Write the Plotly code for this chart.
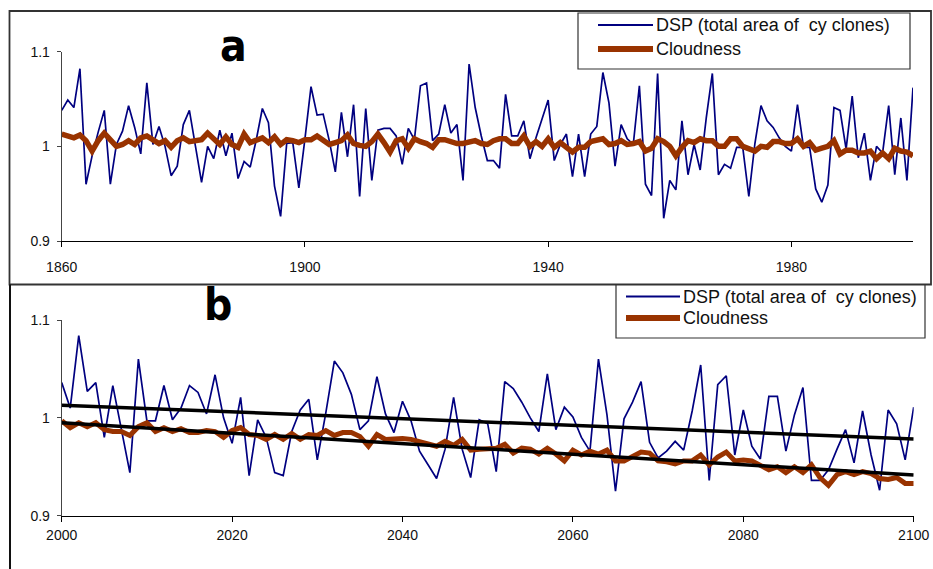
import plotly.graph_objects as go

W, H = 933, 569

# ---------------- Panel a data (1860-2000) ----------------
years_a = list(range(1860, 2001))
dsp_a = [1.038, 1.049, 1.041, 1.082, 0.960, 0.990, 1.015, 1.038, 0.960, 1.002,
         1.016, 1.043, 1.020, 0.992, 1.067, 1.002, 1.021, 1.000, 0.969, 0.979,
         1.023, 1.038, 1.000, 0.962, 1.000, 0.987, 1.017, 0.990, 1.014, 0.966,
         0.984, 0.978, 1.007, 1.040, 1.025, 0.958, 0.926, 1.003, 1.004, 0.956,
         1.008, 1.063, 1.033, 1.034, 1.006, 0.973, 1.036, 0.989, 1.044, 0.947,
         1.040, 0.964, 1.017, 1.019, 1.019, 1.011, 0.981, 1.019, 1.007, 1.064,
         1.067, 1.006, 1.013, 1.044, 1.014, 1.023, 0.964, 1.087, 1.041, 1.011,
         0.985, 0.985, 0.977, 1.055, 1.011, 1.011, 1.027, 0.987, 1.009, 1.029,
         1.049, 0.985, 1.002, 1.013, 0.968, 1.013, 0.968, 1.013, 1.021, 1.078,
         1.046, 0.979, 1.023, 1.008, 1.002, 1.064, 0.960, 0.948, 1.077, 0.924,
         0.964, 0.954, 1.027, 0.970, 1.002, 0.975, 1.030, 1.077, 0.970, 0.981,
         0.977, 0.999, 0.999, 0.947, 1.003, 1.043, 1.027, 1.020, 1.009, 1.000,
         0.995, 1.044, 0.999, 0.999, 0.955, 0.941, 0.959, 1.041, 1.038, 0.997,
         1.053, 0.988, 1.014, 0.964, 1.000, 0.993, 1.043, 0.970, 1.030, 0.964,
         1.062]
cloud_a = [1.013, 1.011, 1.009, 1.012, 1.006, 0.995, 1.006, 1.014, 1.006, 1.000,
           1.002, 1.006, 1.002, 1.009, 1.011, 1.007, 1.003, 1.006, 0.999, 1.006,
           1.009, 1.005, 1.006, 1.007, 1.014, 1.007, 1.002, 1.010, 1.002, 0.999,
           1.013, 1.004, 1.006, 1.009, 1.004, 1.010, 1.002, 1.007, 1.006, 1.004,
           1.007, 1.007, 1.011, 1.007, 1.002, 1.004, 1.006, 1.012, 1.003, 1.001,
           1.000, 1.005, 1.013, 1.004, 0.994, 1.006, 1.008, 0.998, 1.008, 1.005,
           1.003, 0.999, 1.007, 1.007, 1.005, 1.003, 1.003, 1.004, 1.006, 1.003,
           1.002, 1.006, 1.008, 1.008, 1.003, 1.003, 1.011, 1.000, 1.005, 1.000,
           1.008, 0.999, 1.004, 0.999, 0.994, 0.999, 0.999, 1.005, 1.006, 1.008,
           1.002, 1.003, 1.006, 1.002, 1.003, 1.005, 0.995, 0.998, 1.008, 1.005,
           1.000, 0.990, 0.999, 1.006, 1.004, 1.008, 1.006, 1.006, 1.000, 1.000,
           1.008, 1.008, 1.000, 0.998, 0.995, 1.000, 0.999, 1.005, 1.005, 1.003,
           1.003, 1.008, 1.000, 1.004, 0.996, 0.998, 1.000, 1.006, 0.992, 0.996,
           0.996, 0.993, 0.993, 0.995, 0.987, 0.993, 0.987, 0.998, 0.995, 0.994,
           0.990]

# ---------------- Panel b data (2000-2100) ----------------
years_b = list(range(2000, 2101))
dsp_b = [1.036, 1.010, 1.084, 1.027, 1.036, 0.980, 1.033, 0.988, 0.944, 1.060,
         0.997, 0.997, 1.033, 0.998, 1.010, 1.033, 1.026, 1.004, 1.044, 1.000,
         0.974, 1.021, 0.941, 0.998, 0.980, 0.944, 0.941, 0.986, 1.008, 1.019,
         0.957, 1.005, 1.058, 1.046, 1.024, 0.988, 0.997, 1.042, 1.004, 0.985,
         1.017, 0.997, 0.966, 0.952, 0.938, 0.968, 1.021, 0.968, 0.939, 0.998,
         0.994, 0.945, 1.037, 1.030, 1.016, 1.000, 0.986, 1.045, 0.988, 1.011,
         1.001, 0.980, 0.966, 1.060, 1.003, 0.925, 0.999, 1.016, 1.037, 0.975,
         0.959, 0.966, 0.976, 0.967, 1.007, 1.054, 0.936, 1.034, 1.043, 0.962,
         1.008, 0.971, 0.958, 1.022, 1.022, 0.966, 1.003, 1.031, 0.936, 0.936,
         0.947, 0.968, 0.988, 0.954, 1.007, 0.962, 0.926, 1.008, 0.994, 0.957,
         1.011]
cloud_b = [0.997, 0.990, 0.995, 0.991, 0.995, 0.988, 0.986, 0.986, 0.982, 0.991,
           0.995, 0.986, 0.990, 0.986, 0.989, 0.985, 0.985, 0.987, 0.986, 0.980,
           0.987, 0.990, 0.983, 0.982, 0.978, 0.983, 0.978, 0.984, 0.978, 0.983,
           0.982, 0.987, 0.982, 0.985, 0.985, 0.981, 0.971, 0.983, 0.978, 0.979,
           0.979, 0.978, 0.976, 0.974, 0.971, 0.976, 0.972, 0.978, 0.967, 0.968,
           0.968, 0.969, 0.973, 0.964, 0.969, 0.968, 0.963, 0.969, 0.963, 0.956,
           0.967, 0.962, 0.966, 0.963, 0.967, 0.956, 0.956, 0.961, 0.965, 0.964,
           0.956, 0.955, 0.953, 0.956, 0.956, 0.962, 0.952, 0.960, 0.965, 0.956,
           0.957, 0.956, 0.952, 0.947, 0.950, 0.944, 0.950, 0.944, 0.952, 0.939,
           0.931, 0.942, 0.945, 0.942, 0.945, 0.943, 0.938, 0.937, 0.939, 0.933,
           0.933]
trend_years = [2000, 2100]
dsp_trend = [1.013, 0.9785]
cloud_trend = [0.995, 0.9415]

ticks_a = [1860, 1900, 1940, 1980]
ticks_b = [2000, 2020, 2040, 2060, 2080, 2100]
ticks_y = [0.9, 1.0, 1.1]
ticks_y_text = ["0.9", "1", "1.1"]

legend_labels = ["DSP (total area of\u00a0 cy clones)", "Cloudness"]
panel_labels = ["a", "b"]

NAVY = "#000080"
BROWN = "#993300"


def px(x):
    return x / W


def py(y):
    return 1 - y / H


fig = go.Figure()

# panel a traces
fig.add_trace(go.Scatter(x=years_a, y=dsp_a, mode="lines", line=dict(color=NAVY, width=1.7),
                         xaxis="x", yaxis="y", showlegend=False))
fig.add_trace(go.Scatter(x=years_a, y=cloud_a, mode="lines", line=dict(color=BROWN, width=5.5),
                         xaxis="x", yaxis="y", showlegend=False))
# panel b traces
fig.add_trace(go.Scatter(x=years_b, y=dsp_b, mode="lines", line=dict(color=NAVY, width=1.7),
                         xaxis="x2", yaxis="y2", showlegend=False))
fig.add_trace(go.Scatter(x=years_b, y=cloud_b, mode="lines", line=dict(color=BROWN, width=5),
                         xaxis="x2", yaxis="y2", showlegend=False))
fig.add_trace(go.Scatter(x=trend_years, y=dsp_trend, mode="lines", line=dict(color="#000000", width=3.5),
                         xaxis="x2", yaxis="y2", showlegend=False))
fig.add_trace(go.Scatter(x=trend_years, y=cloud_trend, mode="lines", line=dict(color="#000000", width=3.5),
                         xaxis="x2", yaxis="y2", showlegend=False))

tickfont = dict(family="Liberation Sans, Arial, sans-serif", size=14, color="#111")

common_x = dict(showgrid=False, zeroline=False, showline=True, linecolor="#000", linewidth=1.2,
                ticks="outside", ticklen=5, tickcolor="#000", tickwidth=1, tickfont=tickfont,
                automargin=False)
common_y = dict(showgrid=False, zeroline=False, showline=True, linecolor="#444", linewidth=1,
                ticks="outside", ticklen=4, tickcolor="#444", tickwidth=1, tickfont=tickfont,
                tickvals=ticks_y, ticktext=ticks_y_text, ticklabelstandoff=4, automargin=False)

fig.update_layout(
    width=W, height=H, autosize=False,
    margin=dict(l=0, r=0, t=0, b=0, pad=0, autoexpand=False),
    paper_bgcolor="white", plot_bgcolor="white",
    showlegend=False,
    xaxis=dict(domain=[px(61.7), px(913)], range=[1860, 2000], tickvals=ticks_a,
               anchor="y", ticklabelstandoff=8, **common_x),
    yaxis=dict(domain=[py(241), py(51.7)], range=[0.9, 1.1], anchor="x", **common_y),
    xaxis2=dict(domain=[px(61.7), px(913.7)], range=[2000, 2100], tickvals=ticks_b,
                anchor="y2", ticklabelstandoff=1, **common_x),
    yaxis2=dict(domain=[py(515.7), py(320)], range=[0.9, 1.1], anchor="x2", **common_y),
)

shapes = []
# panel borders
shapes.append(dict(type="rect", xref="paper", yref="paper", x0=px(9.5), x1=px(931), y0=py(284.5), y1=py(11),
                   line=dict(color="#333", width=1.8), layer="below"))
shapes.append(dict(type="line", xref="paper", yref="paper", x0=px(10), x1=px(10), y0=py(284.5), y1=py(569),
                   line=dict(color="#111", width=2)))

# custom legends
legend_boxes = [(578, 13, 910, 69, 598, 653, 25, 49), (616, 285, 925, 338, 626, 680, 296.5, 318)]
annotations = []
for (bx0, by0, bx1, by1, lx0, lx1, r1, r2) in legend_boxes:
    shapes.append(dict(type="rect", xref="paper", yref="paper", x0=px(bx0), x1=px(bx1), y0=py(by1), y1=py(by0),
                       line=dict(color="#333", width=1.2), fillcolor="white"))
    shapes.append(dict(type="line", xref="paper", yref="paper", x0=px(lx0), x1=px(lx1), y0=py(r1), y1=py(r1),
                       line=dict(color=NAVY, width=2)))
    shapes.append(dict(type="line", xref="paper", yref="paper", x0=px(lx0), x1=px(lx1), y0=py(r2), y1=py(r2),
                       line=dict(color=BROWN, width=6)))
    for txt, ry in zip(legend_labels, (r1, r2)):
        annotations.append(dict(xref="paper", yref="paper", x=px(lx1 + 1), y=py(ry), xanchor="left",
                                yanchor="middle", text=txt, showarrow=False,
                                font=dict(family="Liberation Sans, Arial, sans-serif", size=18, color="#111")))

# panel letters
for lab, (lx, ly) in zip(panel_labels, [(233, 46), (218, 304)]):
    annotations.append(dict(xref="paper", yref="paper", x=px(lx), y=py(ly), xanchor="center", yanchor="middle",
                            text="<b>%s</b>" % lab, showarrow=False,
                            font=dict(family="Liberation Sans Narrow, DejaVu Sans Condensed, Arial Narrow, sans-serif",
                                      size=44, color="#000")))

fig.update_layout(shapes=shapes, annotations=annotations)

fig.write_html("out.html",
               config={"displayModeBar": False},
               post_script="document.body.style.margin='0';document.body.style.overflow='hidden';")
